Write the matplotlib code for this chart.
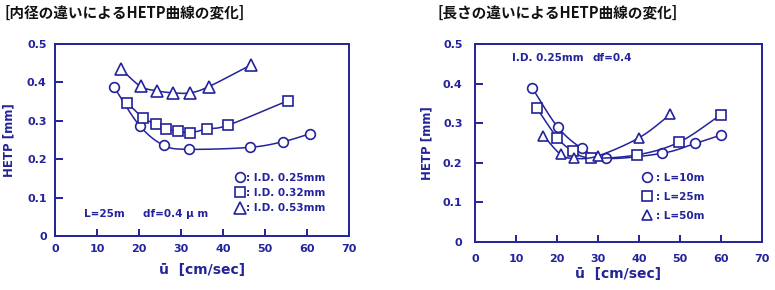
import numpy as np
import matplotlib
matplotlib.use('Agg')
import matplotlib.pyplot as plt

# left chart: column inner diameter
id_labels = [': I.D. 0.25mm', ': I.D. 0.32mm', ': I.D. 0.53mm']
u_id025 = [14.1, 20.2, 26.0, 32.0, 46.4, 54.4, 60.7]
h_id025 = [0.387, 0.287, 0.236, 0.226, 0.231, 0.246, 0.266]
u_id032 = [17.2, 21.0, 24.1, 26.4, 29.3, 32.2, 36.2, 41.3, 55.6]
h_id032 = [0.347, 0.308, 0.291, 0.279, 0.273, 0.269, 0.279, 0.289, 0.353]
u_id053 = [15.8, 20.4, 24.4, 28.2, 32.2, 36.6, 46.6]
h_id053 = [0.434, 0.390, 0.378, 0.373, 0.373, 0.389, 0.445]

# right chart: column length
len_labels = [': L=10m', ': L=25m', ': L=50m']
u_l10 = [14.0, 20.2, 26.0, 32.0, 45.7, 53.8, 60.0]
h_l10 = [0.388, 0.290, 0.237, 0.211, 0.224, 0.249, 0.270]
u_l25 = [15.0, 20.1, 23.8, 28.2, 39.6, 49.8, 60.0]
h_l25 = [0.339, 0.263, 0.230, 0.212, 0.220, 0.252, 0.321]
u_l50 = [16.7, 20.9, 24.1, 29.9, 40.0, 47.7]
h_l50 = [0.268, 0.221, 0.211, 0.217, 0.263, 0.322]

navy = '#23239b'
plt.rcParams['font.family'] = ['DejaVu Sans']
plt.rcParams['font.weight'] = 'bold'


def smooth(x, y, n=20):
    # catmull-rom curve through the measured points
    p = np.column_stack([x, y]).astype(float)
    p = np.vstack([2 * p[0] - p[1], p, 2 * p[-1] - p[-2]])
    out = []
    for i in range(1, len(p) - 2):
        t = np.linspace(0, 1, n)[:, None]
        p0, p1, p2, p3 = p[i - 1], p[i], p[i + 1], p[i + 2]
        c = 0.5 * ((2 * p1) + (-p0 + p2) * t + (2 * p0 - 5 * p1 + 4 * p2 - p3) * t ** 2
                   + (-p0 + 3 * p1 - 3 * p2 + p3) * t ** 3)
        out.append(c)
    c = np.vstack(out)
    return c[:, 0], c[:, 1]


def style_axes(ax, xpad, ypad):
    ax.set_xlim(0, 70)
    ax.set_ylim(0, 0.5)
    ax.set_xticks(np.arange(0, 71, 10))
    ax.set_yticks(np.arange(0, 0.51, 0.1))
    ax.set_xticklabels([str(v) for v in range(0, 71, 10)])
    ax.set_yticklabels(['0', '0.1', '0.2', '0.3', '0.4', '0.5'])
    for s in ax.spines.values():
        s.set_color(navy)
        s.set_linewidth(1.4)
    ax.tick_params(axis='x', direction='in', length=5, width=1.4, color=navy,
                   labelcolor=navy, labelsize=8, pad=xpad)
    ax.tick_params(axis='y', direction='in', length=6, width=1.4, color=navy,
                   labelcolor=navy, labelsize=8, pad=ypad)
    for lab in ax.get_xticklabels() + ax.get_yticklabels():
        lab.set_fontweight('bold')
    ax.set_xlabel('ū  [cm/sec]', color=navy, fontsize=10, fontweight='bold', labelpad=6)
    ax.set_ylabel('HETP [mm]', color=navy, fontsize=8.5, fontweight='bold', labelpad=8)


def draw(ax, x, y, marker, ms, label):
    sx, sy = smooth(x, y)
    ax.plot(sx, sy, color=navy, lw=1.1)
    ax.plot(x, y, ls='none', marker=marker, ms=ms, mfc='white', mec=navy, mew=1.2,
            label=label)


fig = plt.figure(figsize=(7.75, 2.9), dpi=100)
ax1 = fig.add_axes([0.071, 0.186, 0.379, 0.662])
ax2 = fig.add_axes([0.613, 0.166, 0.370, 0.682])

draw(ax1, u_id025, h_id025, 'o', 7, id_labels[0])
draw(ax1, u_id032, h_id032, 's', 6.5, id_labels[1])
draw(ax1, u_id053, h_id053, '^', 9, id_labels[2])
style_axes(ax1, 6, 6)
ax1.yaxis.set_label_coords(-0.135, 0.5)
ax1.text(0.1, 0.115, 'L=25m', transform=ax1.transAxes, color=navy, fontsize=7.5,
         fontweight='bold', va='center')
ax1.text(0.3, 0.115, 'df=0.4 μ m', transform=ax1.transAxes, color=navy, fontsize=7.5,
         fontweight='bold', va='center')
leg1 = ax1.legend(loc='center left', bbox_to_anchor=(0.6, 0.224), frameon=False,
                  handlelength=0.9, handletextpad=0.1, labelspacing=0.5,
                  prop={'size': 7.5, 'weight': 'bold'}, borderaxespad=0)
for t in leg1.get_texts():
    t.set_color(navy)

draw(ax2, u_l10, h_l10, 'o', 7, len_labels[0])
draw(ax2, u_l25, h_l25, 's', 7, len_labels[1])
draw(ax2, u_l50, h_l50, '^', 7.5, len_labels[2])
style_axes(ax2, 9, 9)
ax2.xaxis.labelpad = 2
ax2.yaxis.set_label_coords(-0.145, 0.5)
ax2.text(0.13, 0.93, 'I.D. 0.25mm', transform=ax2.transAxes, color=navy, fontsize=7.5,
         fontweight='bold', va='center')
ax2.text(0.41, 0.93, 'df=0.4', transform=ax2.transAxes, color=navy, fontsize=7.5,
         fontweight='bold', va='center')
leg2 = ax2.legend(loc='center left', bbox_to_anchor=(0.57, 0.227), frameon=False,
                  handlelength=0.9, handletextpad=0.4, labelspacing=0.85,
                  prop={'size': 7.5, 'weight': 'bold'}, borderaxespad=0)
for t in leg2.get_texts():
    t.set_color(navy)

fig.text(0.006, 0.955, '[内径の違いによるHETP曲線の変化]', fontsize=10.5, fontweight='bold',
         color='#111111', va='center', family=['Noto Sans CJK JP', 'DejaVu Sans'])
fig.text(0.565, 0.955, '[長さの違いによるHETP曲線の変化]', fontsize=10.5, fontweight='bold',
         color='#111111', va='center', family=['Noto Sans CJK JP', 'DejaVu Sans'])

fig.savefig('out.png', dpi=100)
